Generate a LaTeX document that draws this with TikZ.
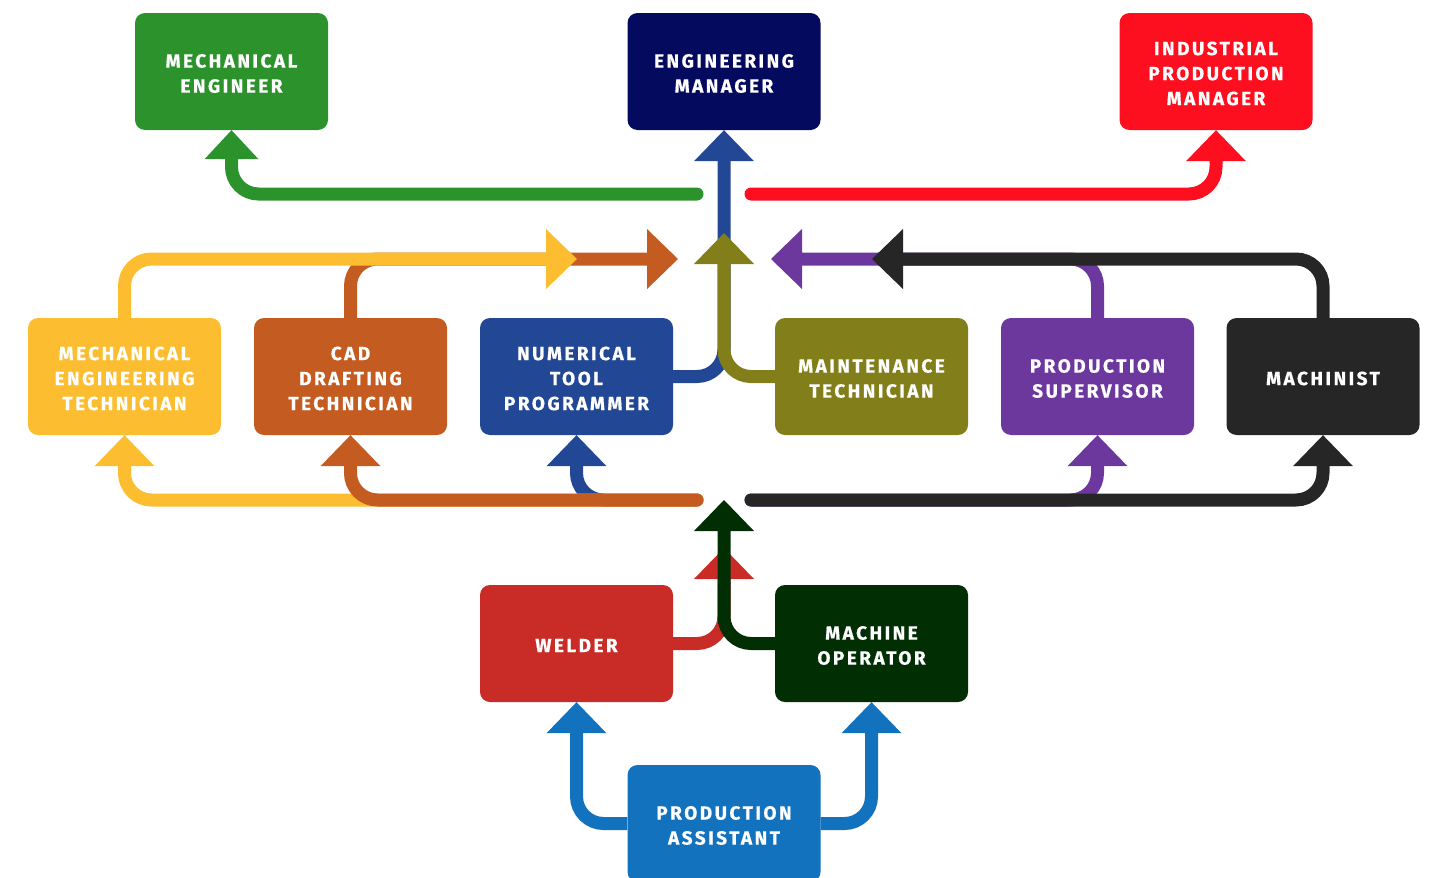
\documentclass[tikz,border=0pt]{standalone}
\usepackage{fontspec}
\usepackage{tikz}
\usetikzlibrary{arrows.meta}
\newfontfamily\jobfont[LetterSpace=13, BoldFeatures={FakeBold=0.6}]{Fira Sans}
\definecolor{grassgreen}{RGB}{44,146,44}
\definecolor{navyblue}{RGB}{4,10,94}
\definecolor{signalred}{RGB}{254,15,31}
\definecolor{sunyellow}{RGB}{252,190,48}
\definecolor{rust}{RGB}{196,91,32}
\definecolor{cobalt}{RGB}{34,71,148}
\definecolor{olivebox}{RGB}{130,126,25}
\definecolor{violetbox}{RGB}{109,56,157}
\definecolor{charcoal}{RGB}{38,38,38}
\definecolor{brick}{RGB}{201,43,38}
\definecolor{forest}{RGB}{2,46,3}
\definecolor{skyblue}{RGB}{19,114,190}

\tikzset{
  job/.style={rounded corners=10pt, minimum width=193pt, minimum height=117pt,
    inner sep=0pt},
  jobtext/.style={text=white, align=center, inner sep=0pt, yshift=-2pt,
    font=\jobfont\bfseries\fontsize{19}{25}\selectfont},
  link/.style={line width=13pt, rounded corners=27pt,
    -{Triangle[width=60pt,length=31pt,line width=0pt]}},
  hub/.style={link, line cap=round},
}

\begin{document}
\begin{tikzpicture}[x=1pt, y=-1pt]
  \useasboundingbox (0,0) rectangle (1435,878);

  % boxes
  \node[job, fill=grassgreen, label={[jobtext]center:MECHANICAL\\ENGINEER}] (mecheng) at (231.5,71.5) {};
  \node[job, fill=navyblue, label={[jobtext]center:ENGINEERING\\MANAGER}] (engmgr) at (724,71.5) {};
  \node[job, fill=signalred, label={[jobtext]center:INDUSTRIAL\\PRODUCTION\\MANAGER}] (indmgr) at (1216,71.5) {};
  \node[job, fill=sunyellow, label={[jobtext]center:MECHANICAL\\ENGINEERING\\TECHNICIAN}] (metech) at (124.5,376.5) {};
  \node[job, fill=rust, label={[jobtext]center:CAD\\DRAFTING\\TECHNICIAN}] (caddraft) at (350.5,376.5) {};
  \node[job, fill=cobalt, label={[jobtext]center:NUMERICAL\\TOOL\\PROGRAMMER}] (nctool) at (576.5,376.5) {};
  \node[job, fill=olivebox, label={[jobtext]center:MAINTENANCE\\TECHNICIAN}] (mainttech) at (871.5,376.5) {};
  \node[job, fill=violetbox, label={[jobtext]center:PRODUCTION\\SUPERVISOR}] (prodsup) at (1097.5,376.5) {};
  \node[job, fill=charcoal, label={[jobtext]center:MACHINIST}] (machinist) at (1323,376.5) {};
  \node[job, fill=brick, label={[jobtext]center:WELDER}] (welder) at (576.5,643.5) {};
  \node[job, fill=forest, label={[jobtext]center:MACHINE\\OPERATOR}] (machop) at (871.5,643.5) {};
  \node[job, fill=skyblue, label={[jobtext]center:PRODUCTION\\ASSISTANT}] (prodasst) at (724,823.5) {};

  % free ends round the middle
  \coordinate (upL) at (697,194);
  \coordinate (upR) at (751,194);
  \coordinate (dnL) at (697,500);
  \coordinate (dnR) at (751,500);
  \coordinate (yelTip) at (577,259);
  \coordinate (rustTip) at (678,259);
  \coordinate (oliveTip) at (724,233);
  \coordinate (violetTip) at (771,259);
  \coordinate (coalTip) at (872,259);
  \coordinate (forestTip) at (724,500);
  \coordinate (brickTip) at (724,548);

  % upper links
  \draw[hub, grassgreen, -{Triangle[width=54pt,length=29pt,line width=0pt]}] (upL) -| (mecheng.south);
  \draw[hub, signalred] (upR) -| (indmgr.south);
  \draw[link, cobalt] (nctool.east) -| (engmgr.south);
  \draw[link, olivebox] (mainttech.west) -| (oliveTip);
  \draw[link, rust] (caddraft.north) |- (rustTip);
  \draw[link, sunyellow] (metech.north) |- (yelTip);
  \draw[link, violetbox] (prodsup.north) |- (violetTip);
  \draw[link, charcoal] (machinist.north) |- (coalTip);

  % lower links
  \draw[hub, cobalt] (dnL) -| (nctool.south);
  \draw[hub, sunyellow] (dnL) -| (metech.south);
  \draw[hub, rust] (dnL) -| (caddraft.south);
  \draw[hub, violetbox] (dnR) -| (prodsup.south);
  \draw[hub, charcoal] (dnR) -| (machinist.south);
  \draw[link, brick] (welder.east) -| (brickTip);
  \draw[link, forest] (machop.west) -| (forestTip);
  \draw[link, skyblue] (prodasst.west) -| (welder.south);
  \draw[link, skyblue] (prodasst.east) -| (machop.south);
\end{tikzpicture}
\end{document}
